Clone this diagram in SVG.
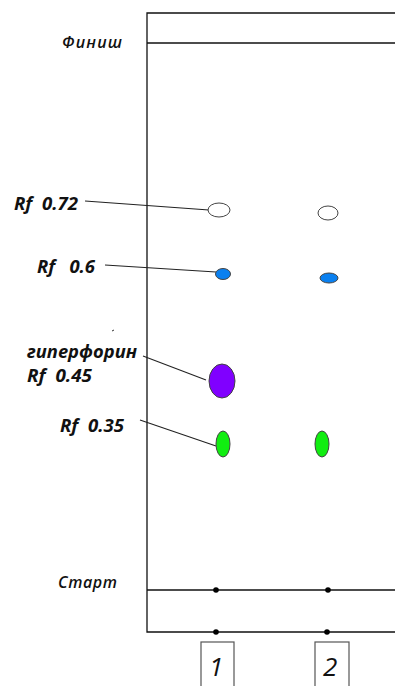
<svg xmlns="http://www.w3.org/2000/svg" width="395" height="686" viewBox="0 0 395 686">
<style>
.lbl{font-family:"Open Sans","Liberation Sans",sans-serif;font-style:italic;font-weight:bold;font-size:18px;fill:#111}
.ttl{font-family:"Open Sans","Liberation Sans",sans-serif;font-style:italic;font-weight:600;font-size:16px;fill:#111}
.num{font-family:"Open Sans","Liberation Sans",sans-serif;font-style:italic;font-size:26px;fill:#111}
.ln{stroke:#111;stroke-width:1.3;fill:none}
.lead{stroke:#222;stroke-width:1.1;fill:none}
.spot{stroke:#444;stroke-width:1}
.dot{fill:#000}
</style>
<rect width="395" height="686" fill="#fff"/>
<g id="plate">
<path class="ln" d="M400 13 H147 V632 H400"/>
<line class="ln" x1="147" y1="43" x2="400" y2="43" stroke="#555"/>
<line class="ln" x1="147" y1="590" x2="400" y2="590"/>
<line x1="112" y1="331" x2="114" y2="330" stroke="#333" stroke-width="1"/>
</g>
<g id="labels">
<text class="ttl" x="62" y="48" textLength="60" lengthAdjust="spacing">Финиш</text>
<text class="ttl" x="58" y="588" textLength="59" lengthAdjust="spacing">Старт</text>
</g>
<g id="connectors">
<line class="lead" x1="85" y1="201" x2="209" y2="210"/>
<line class="lead" x1="105" y1="265" x2="216" y2="272"/>
<line class="lead" x1="143" y1="356" x2="206" y2="380"/>
<line class="lead" x1="140" y1="420" x2="216" y2="446"/>
</g>
<g id="rf072"><text class="lbl" x="14" y="210" xml:space="preserve" textLength="64" lengthAdjust="spacingAndGlyphs">Rf  0.72</text></g>
<g id="rf06"><text class="lbl" x="37" y="273" xml:space="preserve" textLength="58" lengthAdjust="spacingAndGlyphs">Rf   0.6</text></g>
<g id="rf045"><text class="lbl" x="27" y="358" textLength="110" lengthAdjust="spacingAndGlyphs">гиперфорин</text><text class="lbl" x="27" y="382" xml:space="preserve" textLength="65" lengthAdjust="spacingAndGlyphs">Rf  0.45</text></g>
<g id="rf035"><text class="lbl" x="60" y="432" xml:space="preserve" textLength="64" lengthAdjust="spacingAndGlyphs">Rf  0.35</text></g>
<g id="lane1">
<ellipse class="spot" cx="219" cy="210" rx="11" ry="7" fill="#fff"/>
<ellipse class="spot" cx="223" cy="274" rx="7.5" ry="5.5" fill="#0a80f0"/>
<ellipse class="spot" cx="222" cy="381" rx="13" ry="17" fill="#8000ff"/>
<ellipse class="spot" cx="223" cy="444" rx="7" ry="13" fill="#11ee11"/>
<circle class="dot" cx="216" cy="590" r="2.8"/>
<circle class="dot" cx="216" cy="632" r="2.8"/>
<rect x="201" y="642" width="33" height="50" fill="none" stroke="#555" stroke-width="1.2"/>
<text class="num" x="209" y="676">1</text>
</g>
<g id="lane2">
<ellipse class="spot" cx="328" cy="213" rx="10" ry="7" fill="#fff"/>
<ellipse class="spot" cx="329" cy="278" rx="9" ry="5" fill="#0a80f0"/>
<ellipse class="spot" cx="322" cy="444" rx="7" ry="13" fill="#11ee11"/>
<circle class="dot" cx="328" cy="590" r="2.8"/>
<circle class="dot" cx="327" cy="632" r="2.8"/>
<rect x="315" y="642" width="34" height="50" fill="none" stroke="#555" stroke-width="1.2"/>
<text class="num" x="323" y="676">2</text>
</g>
</svg>
